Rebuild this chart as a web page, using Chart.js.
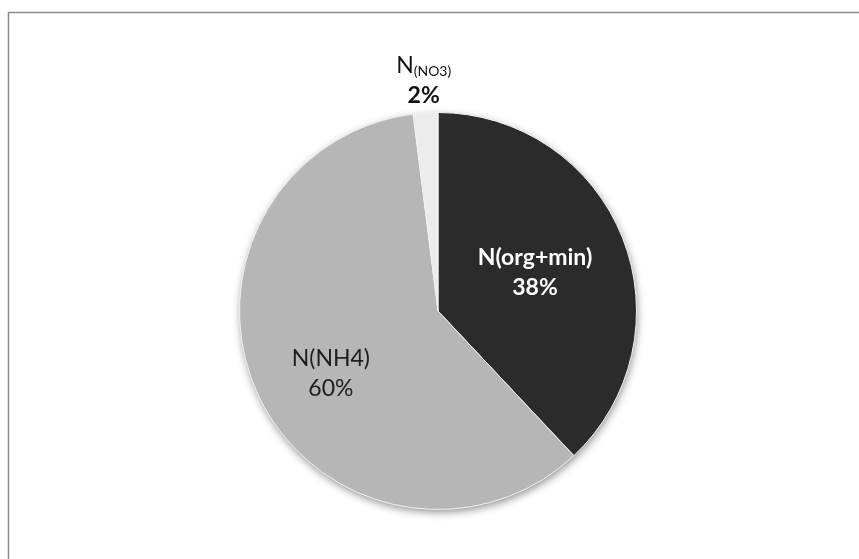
<!DOCTYPE html>
<html>
<head>
<meta charset="utf-8">
<script src="https://cdn.jsdelivr.net/npm/chart.js@4/dist/chart.umd.min.js"></script>
<style>
  html, body { margin: 0; padding: 0; background: #ffffff; }
  #wrap { width: 859px; height: 559px; position: relative; }
</style>
</head>
<body>
<div id="wrap"><canvas id="pie" width="859" height="559"></canvas></div>
<script>
// Nitrogen forms, share of total (%)
const categories = ['N(org+min)', 'N(NH4)', 'N(NO3)'];
const shares = [38, 60, 2];
const labelNames = ['N(org+min)', 'N(NH4)', 'N'];
const labelSubscripts = ['', '', '(NO3)'];
const percentLabels = shares.map(v => v + '%');

const sliceColors = ['#2b2b2b', '#b6b6b6', '#ececec'];
const labelColors = ['#ffffff', '#1e1e1e', '#111111'];
const labelBold = [true, false, true];
// distance of each label from the centre, as a fraction of the radius
const labelRadius = [0.52, 0.63, 1.15];
// small hand nudges of the label blocks (px)
const labelNudge = [[1, 0], [6, 9], [0, -3]];
const FONT = 'Lato, "Open Sans", sans-serif';
const LABEL_SIZE = 23;

// white page with the grey frame lines
const framePlugin = {
  id: 'frame',
  beforeDraw(chart) {
    const ctx = chart.ctx;
    ctx.save();
    ctx.fillStyle = '#ffffff';
    ctx.fillRect(0, 0, chart.width, chart.height);
    ctx.strokeStyle = '#8a8a8a';
    ctx.lineWidth = 1.5;
    ctx.beginPath();
    ctx.moveTo(8.5, chart.height);
    ctx.lineTo(8.5, 12.5);
    ctx.lineTo(chart.width, 12.5);
    ctx.stroke();
    ctx.restore();
  }
};

// soft drop shadow under the whole pie
const shadowPlugin = {
  id: 'pieShadow',
  beforeDatasetsDraw(chart) {
    const arc = chart.getDatasetMeta(0).data[0];
    if (!arc) return;
    const ctx = chart.ctx;
    ctx.save();
    ctx.shadowColor = 'rgba(0,0,0,0.45)';
    ctx.shadowBlur = 9;
    ctx.shadowOffsetX = 1;
    ctx.shadowOffsetY = 3;
    ctx.fillStyle = '#b6b6b6';
    ctx.beginPath();
    ctx.arc(arc.x, arc.y, arc.outerRadius - 0.5, 0, Math.PI * 2);
    ctx.fill();
    ctx.restore();
  }
};

// category and percentage labels placed along each slice's mid-angle
const sliceLabelPlugin = {
  id: 'sliceLabels',
  afterDatasetsDraw(chart) {
    const ctx = chart.ctx;
    const meta = chart.getDatasetMeta(0);
    meta.data.forEach((arc, i) => {
      const mid = (arc.startAngle + arc.endAngle) / 2;
      const r = arc.outerRadius * labelRadius[i];
      const cx = arc.x + Math.cos(mid) * r + labelNudge[i][0];
      const cy = arc.y + Math.sin(mid) * r + labelNudge[i][1];
      const mainFont = (labelBold[i] ? 'bold ' : '') + LABEL_SIZE + 'px ' + FONT;
      const nameFont = labelSubscripts[i] ? LABEL_SIZE + 'px ' + FONT : mainFont;
      const subFont = '14px ' + FONT;
      const y1 = cy - 15;
      const y2 = cy + 15;
      ctx.save();
      ctx.fillStyle = labelColors[i];
      ctx.textBaseline = 'middle';
      ctx.textAlign = 'left';
      // name line, with optional subscript
      ctx.font = nameFont;
      const mainW = ctx.measureText(labelNames[i]).width;
      let subW = 0;
      if (labelSubscripts[i]) {
        ctx.font = subFont;
        subW = ctx.measureText(labelSubscripts[i]).width;
      }
      const startX = cx - (mainW + subW) / 2;
      ctx.font = nameFont;
      ctx.fillText(labelNames[i], startX, y1);
      if (labelSubscripts[i]) {
        ctx.font = subFont;
        ctx.fillText(labelSubscripts[i], startX + mainW, y1 + 6);
      }
      // percentage line
      ctx.font = mainFont;
      ctx.textAlign = 'center';
      ctx.fillText(percentLabels[i], cx, y2);
      ctx.restore();
    });
  }
};

new Chart(document.getElementById('pie'), {
  type: 'pie',
  data: {
    labels: categories,
    datasets: [{
      data: shares,
      backgroundColor: sliceColors,
      borderColor: '#f2f2f2',
      borderWidth: 1
    }]
  },
  options: {
    responsive: false,
    animation: false,
    rotation: 0,
    layout: { padding: { top: 112, bottom: 49, left: 239, right: 222 } },
    plugins: {
      legend: { display: false },
      tooltip: { enabled: false }
    }
  },
  plugins: [framePlugin, shadowPlugin, sliceLabelPlugin]
});
</script>
</body>
</html>
